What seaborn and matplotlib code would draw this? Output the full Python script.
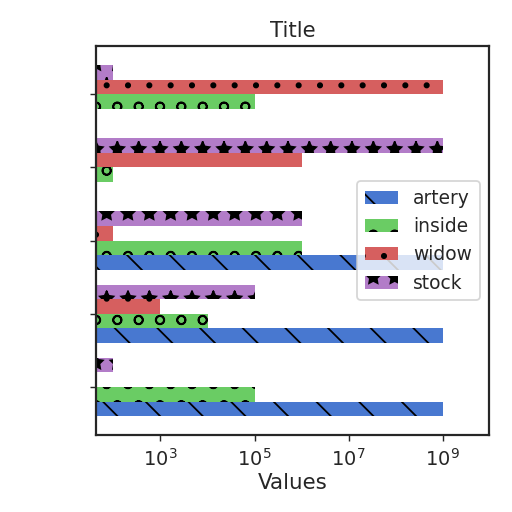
import numpy as np
import pandas as pd
import matplotlib
matplotlib.use("Agg")
import matplotlib.pyplot as plt
from matplotlib.patches import Patch
from matplotlib.ticker import NullLocator
import seaborn as sns

# groups from bottom to top
groups = ["g0", "g1", "g2", "g3", "g4"]
series = ["artery", "inside", "widow", "stock"]
artery = [1e9, 1e9, 1e9, 0, 0]
inside = [1e5, 1e4, 1e6, 1e2, 1e5]
widow = [0, 1e3, 1e2, 1e6, 1e9]
stock = [1e2, 1e5, 1e6, 1e9, 1e2]

colors = ["#4878d0", "#6acc64", "#d65f5f", "#b27cc8"]
hatches = ["\\", "o", ".", "*"]

sns.set_theme(style="ticks", context="notebook")
plt.rcParams["hatch.color"] = "black"
plt.rcParams["xtick.major.size"] = 3.5
plt.rcParams["ytick.major.size"] = 3.5
plt.rcParams["xtick.major.width"] = 0.8
plt.rcParams["ytick.major.width"] = 0.8

rows = []
for name, vals in zip(series, [artery, inside, widow, stock]):
    for g, v in zip(groups, vals):
        rows.append({"group": g, "series": name, "value": v})
df = pd.DataFrame(rows)

fig = plt.figure(figsize=(4, 4), dpi=128)
ax = fig.add_axes([0.1875, 0.15, 0.7675, 0.76])
sns.barplot(data=df, y="group", x="value", hue="series", order=groups,
            hue_order=series, palette=colors, orient="h", legend=False,
            saturation=1, linewidth=0, ax=ax)

for cont, h in zip(ax.containers, hatches):
    for bar in cont:
        bar.set_hatch(h)
        bar.set_edgecolor("black")
        bar.set_linewidth(0)

ax.set_xscale("log")
ax.xaxis.set_minor_locator(NullLocator())
ax.set_xlim(10 ** 1.63, 10 ** 9.98)
ax.set_ylim(-0.66, 4.66)
ax.set_yticks(range(len(groups)))
ax.tick_params(axis="y", labelleft=False)
ax.set_ylabel("")
ax.set_xlabel("Values", labelpad=2)
ax.set_title("Title", pad=5)
for s in ax.spines.values():
    s.set_visible(True)

handles = [Patch(facecolor=c, hatch=h, edgecolor="black", linewidth=0, label=n)
           for c, h, n in zip(colors, hatches, series)]
ax.legend(handles=handles, loc="center right", fontsize=10.5,
          handlelength=1.8)

fig.savefig("out.png", dpi=128)
